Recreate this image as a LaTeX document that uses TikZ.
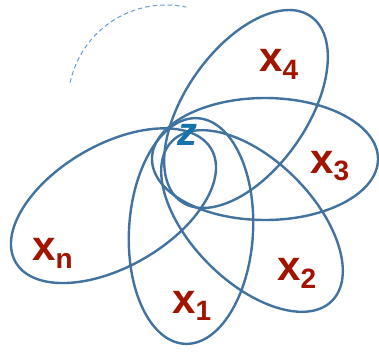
\documentclass[tikz,border=0pt]{standalone}
\usepackage{fontspec}
\setmainfont{Liberation Sans}
\definecolor{petalc}{RGB}{66,114,160}
\definecolor{labc}{RGB}{160,20,0}
\definecolor{zc}{RGB}{20,115,170}
\definecolor{arcc}{RGB}{100,155,215}
\begin{document}
\begin{tikzpicture}[x=1pt,y=1pt,
  petal/.style={draw=petalc, line width=2.4pt},
  lbl/.style={text=labc, font=\fontsize{42}{42}\selectfont\bfseries, inner sep=0pt, anchor=base west},
  zlbl/.style={text=zc, font=\fontsize{40}{40}\selectfont\bfseries\itshape, inner sep=0pt, anchor=base west},
  dasharc/.style={draw=arcc, line width=1pt, dash pattern=on 4.5pt off 3pt},
]
\useasboundingbox (0,0) rectangle (379,351);
% petals
\draw[petal, rotate around={-3.3:(191,120)}] (191,120) ellipse [x radius=62pt, y radius=113pt];
\draw[petal, rotate around={-45:(252,130)}] (252,130) ellipse [x radius=113pt, y radius=61pt];
\draw[petal] (265,192) ellipse [x radius=113pt, y radius=61pt];
\draw[petal, rotate around={55:(246,242)}] (246,242) ellipse [x radius=113pt, y radius=61pt];
\draw[petal, rotate around={30:(113.5,145.3)}] (113.5,145.3) ellipse [x radius=113pt, y radius=61pt];
% dashed arc
\coordinate (arcc) at (166,248);
\draw[dasharc] (arcc) ++(168:98pt) arc[start angle=168, end angle=78, radius=98pt];
% labels
\node[lbl] (l4) at (259,279) {x\raisebox{-8pt}{\fontsize{28}{28}\selectfont 4}};
\node[lbl] (l3) at (310,178) {x\raisebox{-7pt}{\fontsize{28}{28}\selectfont 3}};
\node[lbl] (l2) at (277,71) {x\raisebox{-8pt}{\fontsize{28}{28}\selectfont 2}};
\node[lbl] (l1) at (172,38) {x\raisebox{-7pt}{\fontsize{28}{28}\selectfont 1}};
\node[lbl] (ln) at (32,91) {x\raisebox{-8pt}{\fontsize{28}{28}\selectfont n}};
\node[zlbl] (z) at (177,206) {z};
\end{tikzpicture}
\end{document}
